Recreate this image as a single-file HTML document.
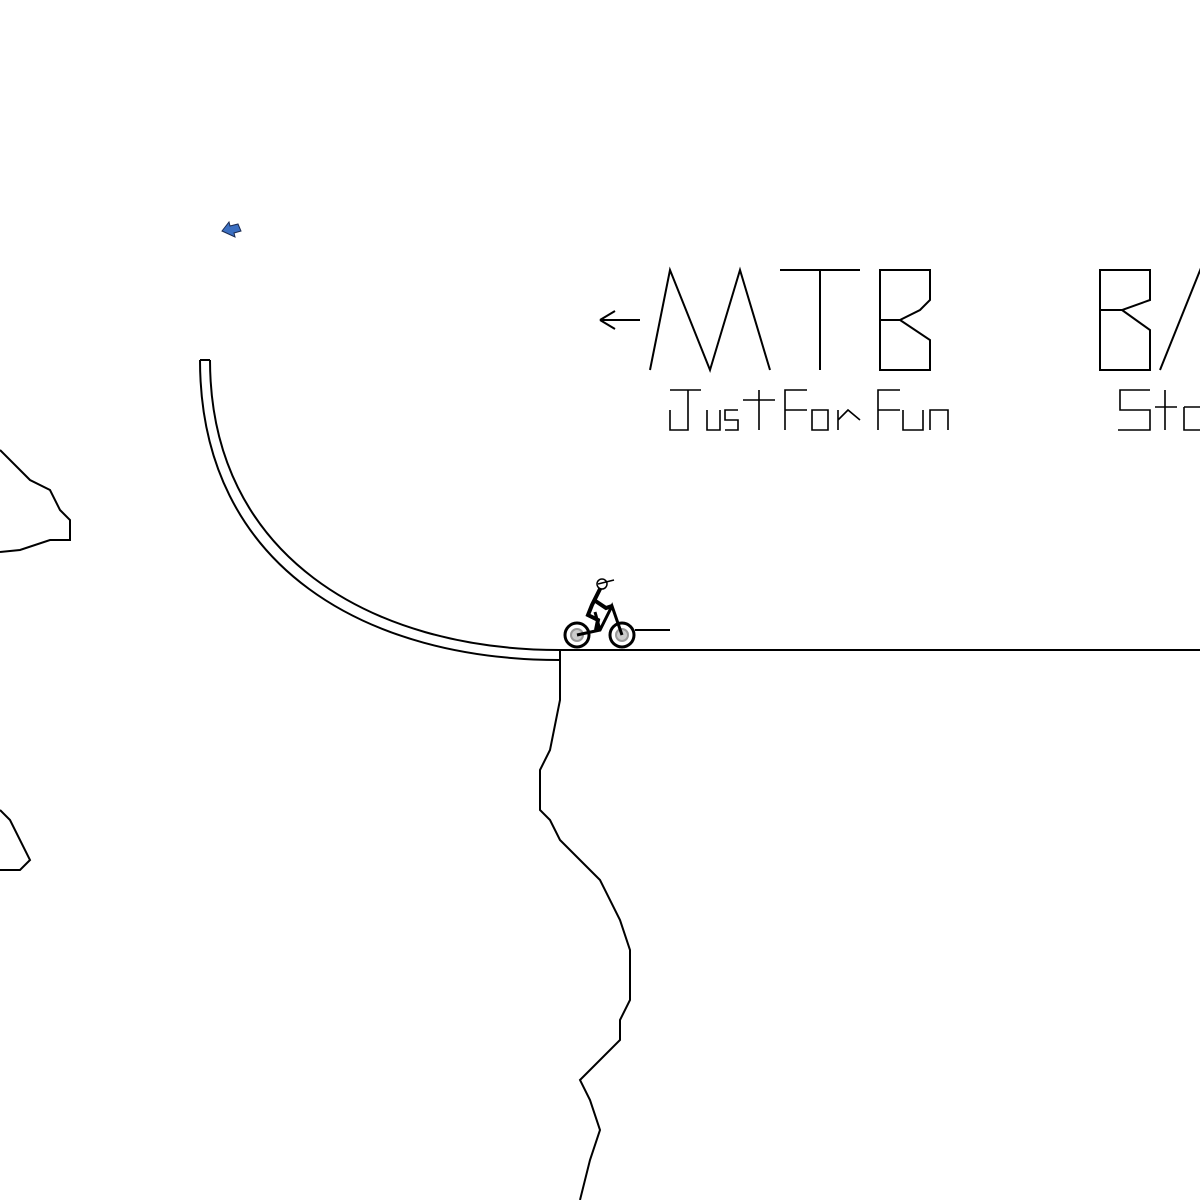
<!DOCTYPE html>
<html><head><meta charset="utf-8"><style>html,body{margin:0;padding:0;background:#fff}svg{display:block}</style></head>
<body>
<svg width="1200" height="1200" viewBox="0 0 1200 1200" xmlns="http://www.w3.org/2000/svg">
<title>MTB BMX Justforfun Sto</title>
<g fill="none" stroke="#000" stroke-width="2" stroke-linejoin="miter">
<path d="M600,320 L640,320 M600,320 L615,311 M600,320 L615,329"/>
<path d="M650,370 L670,270 L710,370 L740,270 L770,370"/>
<path d="M780,270 L860,270 M820,270 L820,370"/>
<path d="M880,270 L930,270 L930,300 L920,310 L900,320 L930,340 L930,370 L880,370 Z M880,320 L900,320"/>
<path d="M1100,270 L1150,270 L1150,300 L1122,310 L1150,330 L1150,370 L1100,370 Z M1100,310 L1122,310"/>
<path d="M1160,370 L1201,268"/>
</g>
<g fill="none" stroke="#000" stroke-width="1.6">
<path d="M670,410 L670,430 L688,430 L688,390 M670,390 L701,390"/>
<path d="M707,410 L707,430 L720,430 L720,410"/>
<path d="M738,410 L725,410 L725,420 L738,420 L738,430 L725,430"/>
<path d="M759,390 L759,430 M743,400 L775,400"/>
<path d="M785,430 L785,390 L807,390 M785,410 L807,410"/>
<path d="M812,410 L828,410 L828,430 L812,430 Z"/>
<path d="M838,410 L838,430 M838,420 L848,410 L860,420"/>
<path d="M878,430 L878,390 L900,390 M878,410 L900,410"/>
<path d="M903,410 L903,430 L923,430 L923,410"/>
<path d="M930,430 L930,410 L948,410 L948,430"/>
<path d="M1150,390 L1120,390 L1120,410 L1150,410 L1150,430 L1118,430"/>
<path d="M1165,390 L1165,430 M1155,407 L1177,407"/>
<path d="M1184,407 L1202,407 M1184,407 L1184,430 L1202,430"/>
</g>
<g fill="none" stroke="#000" stroke-width="2">
<path d="M200,360 L210,360"/>
<path d="M200,360 C200,570 370,660 560,660"/>
<path d="M210,360 C210,555 370,650 560,650"/>
<path d="M560,650 L1200,650"/>
<path d="M560,650 L560,700 L550,750 L540,770 L540,810 L550,820 L560,840 L600,880 L620,920 L630,950 L630,1000 L620,1020 L620,1040 L580,1080 L590,1100 L600,1130 L590,1160 L580,1200"/>
<path d="M0,450 L30,480 L50,490 L60,510 L70,520 L70,540 L50,540 L20,550 L0,552"/>
<path d="M0,810 L10,820 L30,860 L20,870 L0,870"/>
<path d="M635,630 L670,630"/>
</g>
<g stroke="#000">
<circle cx="577" cy="635" r="12" fill="none" stroke-width="3"/>
<circle cx="622" cy="635" r="12" fill="none" stroke-width="3"/>
<circle cx="577" cy="635" r="6" fill="#ccc" stroke="#999" stroke-width="2"/>
<circle cx="622" cy="635" r="6" fill="#ccc" stroke="#999" stroke-width="2"/>
<path d="M577,635 L600,630 L612,606 L622,635 M600,630 L595,612" fill="none" stroke-width="3"/>
<path d="M601,587 L592,605 L588,615 L598,620 L596,630 M594,600 L606,608 L612,606" fill="none" stroke-width="4"/>
<circle cx="602" cy="584" r="5" fill="#fff" stroke-width="1.5"/>
<path d="M598,584 L614,580" stroke-width="1.5"/>
</g>
<path d="M222,231 L229,222 L230,226 L238,224 L241,231 L234,233 L235,237 Z" fill="#3b6fc1" stroke="#1a2a50" stroke-width="1"/>
</svg>
</body></html>
